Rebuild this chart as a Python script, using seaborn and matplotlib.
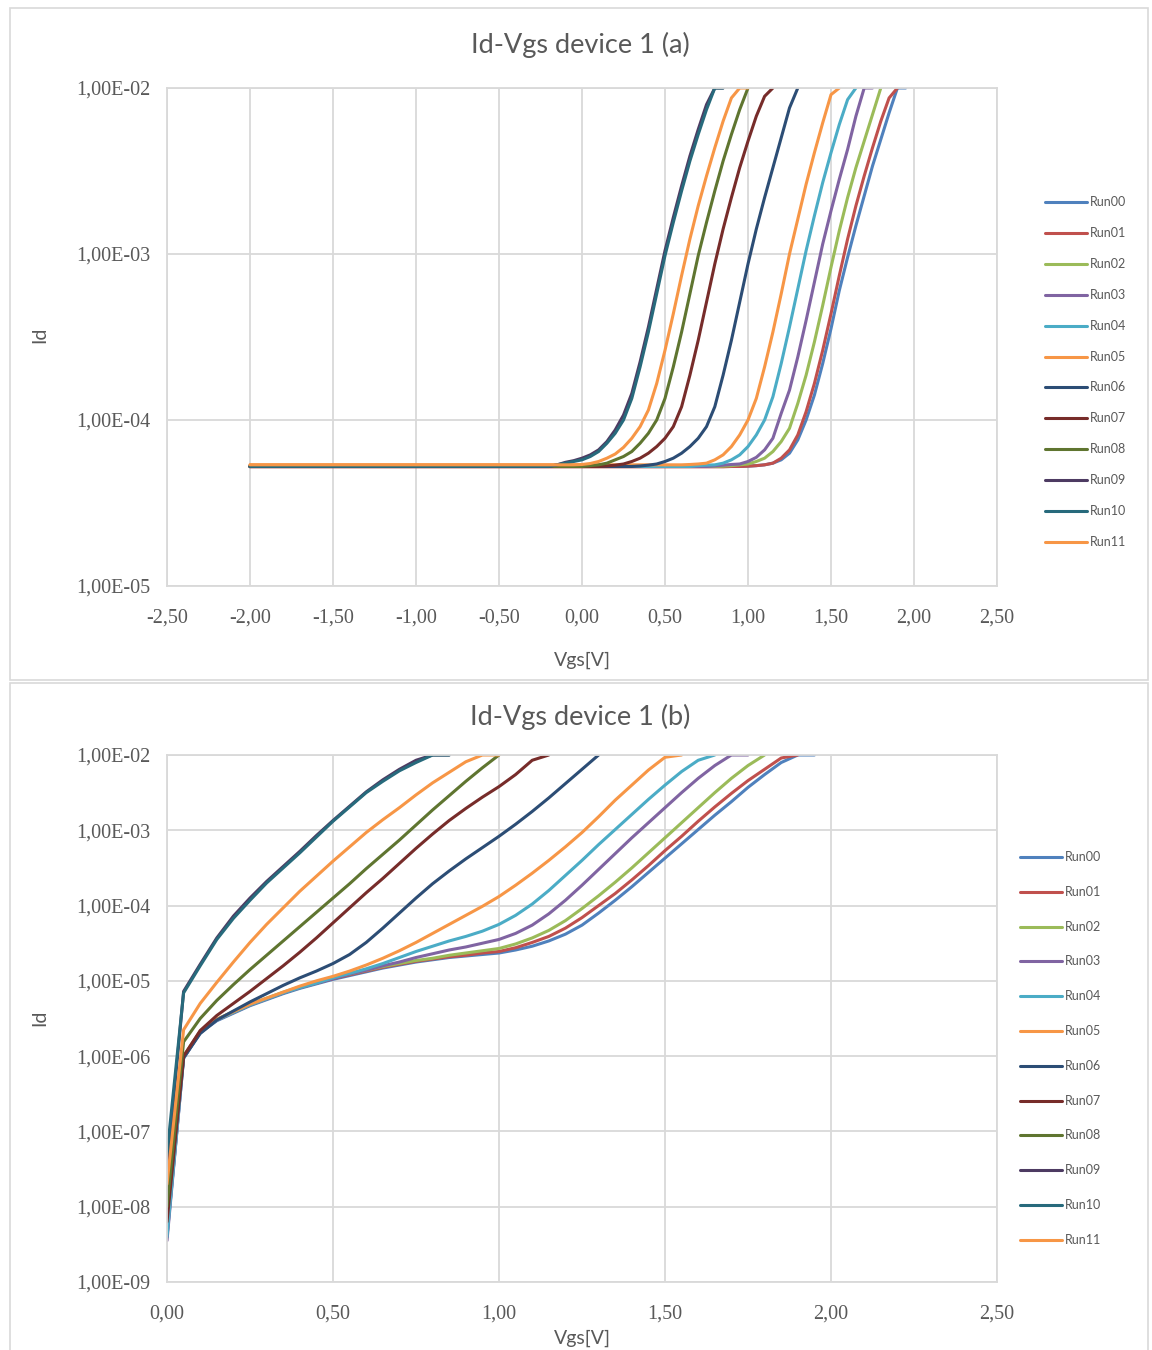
import numpy as np
import pandas as pd
import matplotlib
matplotlib.use("Agg")
import matplotlib.pyplot as plt
from matplotlib.patches import Rectangle
from matplotlib.lines import Line2D
from matplotlib.ticker import FixedLocator, FuncFormatter, NullLocator
import seaborn as sns

# ---------------------------------------------------------------------------
# Sweep voltages (V)
# ---------------------------------------------------------------------------
vgs_a = [-2.0, -1.5, -1.0, -0.5, -0.30, -0.25, -0.20, -0.15, -0.10, -0.05,
         0.00, 0.05, 0.10, 0.15, 0.20, 0.25, 0.30, 0.35, 0.40, 0.45,
         0.50, 0.55, 0.60, 0.65, 0.70, 0.75, 0.80, 0.85, 0.90, 0.95,
         1.00, 1.05, 1.10, 1.15, 1.20, 1.25, 1.30, 1.35, 1.40, 1.45,
         1.50, 1.55, 1.60, 1.65, 1.70, 1.75, 1.80, 1.85, 1.90, 1.95]

vgs_b = [0.00, 0.05, 0.10, 0.15, 0.20, 0.25, 0.30, 0.35, 0.40, 0.45,
         0.50, 0.55, 0.60, 0.65, 0.70, 0.75, 0.80, 0.85, 0.90, 0.95,
         1.00, 1.05, 1.10, 1.15, 1.20, 1.25, 1.30, 1.35, 1.40, 1.45,
         1.50, 1.55, 1.60, 1.65, 1.70, 1.75, 1.80, 1.85, 1.90, 1.95]

runs = ["Run00", "Run01", "Run02", "Run03", "Run04", "Run05",
        "Run06", "Run07", "Run08", "Run09", "Run10", "Run11"]

run_colors = ["#4F81BD", "#C0504D", "#9BBB59", "#8064A2", "#4BACC6", "#F79646",
              "#2C4D75", "#772C2A", "#5F7530", "#4D3B62", "#276A7C", "#F79646"]

# ---------------------------------------------------------------------------
# Device 1 (a): log10(Id [A]) per run, sampled on vgs_a (sweep stops at compliance)
# ---------------------------------------------------------------------------
a_run00 = [-4.28, -4.28, -4.28, -4.28, -4.28, -4.28, -4.28, -4.28, -4.28, -4.28,
           -4.28, -4.28, -4.28, -4.28, -4.28, -4.28, -4.28, -4.28, -4.28, -4.28,
           -4.28, -4.28, -4.28, -4.28, -4.28, -4.28, -4.28, -4.28, -4.28, -4.28,
           -4.278, -4.275, -4.27, -4.26, -4.24, -4.20, -4.12, -4.00, -3.85, -3.66,
           -3.45, -3.22, -3.02, -2.83, -2.65, -2.47, -2.31, -2.15, -2.00, -2.00]
a_run01 = [-4.282, -4.282, -4.282, -4.282, -4.282, -4.282, -4.282, -4.282, -4.282, -4.282,
           -4.282, -4.282, -4.282, -4.282, -4.282, -4.282, -4.282, -4.282, -4.282, -4.282,
           -4.282, -4.282, -4.282, -4.282, -4.282, -4.282, -4.282, -4.282, -4.28, -4.28,
           -4.278, -4.275, -4.27, -4.26, -4.23, -4.18, -4.09, -3.95, -3.78, -3.58,
           -3.36, -3.13, -2.91, -2.71, -2.53, -2.36, -2.20, -2.06, -2.00]
a_run02 = [-4.28, -4.28, -4.28, -4.28, -4.28, -4.28, -4.28, -4.28, -4.28, -4.28,
           -4.28, -4.28, -4.28, -4.28, -4.28, -4.28, -4.28, -4.28, -4.28, -4.28,
           -4.28, -4.28, -4.28, -4.28, -4.28, -4.28, -4.28, -4.278, -4.275, -4.27,
           -4.265, -4.25, -4.23, -4.19, -4.13, -4.05, -3.90, -3.73, -3.53, -3.31,
           -3.08, -2.86, -2.66, -2.48, -2.32, -2.16, -2.00]
a_run03 = [-4.28, -4.28, -4.28, -4.28, -4.28, -4.28, -4.28, -4.28, -4.28, -4.28,
           -4.28, -4.28, -4.28, -4.28, -4.28, -4.28, -4.28, -4.28, -4.28, -4.28,
           -4.28, -4.28, -4.28, -4.28, -4.28, -4.28, -4.277, -4.272, -4.268, -4.265,
           -4.25, -4.225, -4.18, -4.11, -3.96, -3.82, -3.62, -3.40, -3.17, -2.94,
           -2.74, -2.55, -2.37, -2.17, -2.00, -2.00]
a_run04 = [-4.28, -4.28, -4.28, -4.28, -4.28, -4.28, -4.28, -4.28, -4.28, -4.28,
           -4.28, -4.28, -4.28, -4.28, -4.28, -4.28, -4.28, -4.28, -4.28, -4.28,
           -4.28, -4.28, -4.28, -4.28, -4.275, -4.272, -4.27, -4.26, -4.24, -4.21,
           -4.16, -4.09, -4.00, -3.86, -3.66, -3.44, -3.21, -2.98, -2.77, -2.57,
           -2.39, -2.22, -2.07, -2.00]
a_run05 = [-4.27, -4.27, -4.27, -4.27, -4.27, -4.27, -4.27, -4.27, -4.27, -4.27,
           -4.27, -4.27, -4.27, -4.27, -4.27, -4.27, -4.27, -4.27, -4.27, -4.27,
           -4.27, -4.27, -4.27, -4.268, -4.265, -4.26, -4.24, -4.21, -4.16, -4.09,
           -4.00, -3.87, -3.68, -3.47, -3.24, -3.00, -2.79, -2.58, -2.39, -2.21,
           -2.04, -2.00]
a_run06 = [-4.28, -4.28, -4.28, -4.28, -4.28, -4.28, -4.28, -4.28, -4.28, -4.28,
           -4.28, -4.28, -4.28, -4.28, -4.28, -4.28, -4.28, -4.277, -4.272, -4.265,
           -4.25, -4.23, -4.20, -4.16, -4.11, -4.04, -3.92, -3.73, -3.52, -3.29,
           -3.06, -2.85, -2.66, -2.48, -2.30, -2.12, -2.00]
a_run07 = [-4.28, -4.28, -4.28, -4.28, -4.28, -4.28, -4.28, -4.28, -4.28, -4.28,
           -4.28, -4.28, -4.28, -4.277, -4.272, -4.265, -4.25, -4.23, -4.20, -4.16,
           -4.11, -4.04, -3.92, -3.73, -3.52, -3.29, -3.06, -2.85, -2.66, -2.48,
           -2.32, -2.17, -2.05, -2.00]
a_run08 = [-4.28, -4.28, -4.28, -4.28, -4.28, -4.28, -4.28, -4.28, -4.28, -4.28,
           -4.28, -4.275, -4.27, -4.26, -4.24, -4.22, -4.19, -4.14, -4.08, -4.00,
           -3.87, -3.68, -3.47, -3.24, -3.01, -2.81, -2.62, -2.44, -2.28, -2.13,
           -2.00]
a_run09 = [-4.28, -4.28, -4.28, -4.28, -4.28, -4.28, -4.28, -4.27, -4.255, -4.245,
           -4.23, -4.21, -4.18, -4.13, -4.06, -3.97, -3.84, -3.65, -3.44, -3.21,
           -2.98, -2.78, -2.59, -2.41, -2.25, -2.10, -2.00, -2.00]
a_run10 = [-4.28, -4.28, -4.28, -4.28, -4.28, -4.28, -4.28, -4.27, -4.26, -4.25,
           -4.24, -4.22, -4.19, -4.14, -4.08, -4.00, -3.87, -3.68, -3.47, -3.24,
           -3.01, -2.81, -2.62, -2.44, -2.28, -2.13, -2.00, -2.00]
a_run11 = [-4.27, -4.27, -4.27, -4.27, -4.27, -4.27, -4.27, -4.27, -4.27, -4.27,
           -4.268, -4.262, -4.25, -4.23, -4.205, -4.165, -4.11, -4.04, -3.94, -3.78,
           -3.58, -3.36, -3.13, -2.91, -2.71, -2.53, -2.36, -2.20, -2.06, -2.00,
           -2.00]

# ---------------------------------------------------------------------------
# Device 1 (b): log10(Id [A]) per run, sampled on vgs_b
# ---------------------------------------------------------------------------
b_run00 = [-8.40, -6.03, -5.69, -5.53, -5.43, -5.33, -5.25, -5.17, -5.10, -5.04,
           -4.98, -4.93, -4.88, -4.83, -4.79, -4.75, -4.72, -4.69, -4.67, -4.65,
           -4.63, -4.59, -4.54, -4.47, -4.38, -4.26, -4.10, -3.93, -3.75, -3.56,
           -3.37, -3.18, -2.99, -2.80, -2.62, -2.43, -2.26, -2.10, -2.00, -2.00]
b_run01 = [-8.25, -6.02, -5.68, -5.52, -5.42, -5.32, -5.24, -5.16, -5.09, -5.03,
           -4.97, -4.92, -4.87, -4.82, -4.78, -4.74, -4.71, -4.68, -4.66, -4.63,
           -4.61, -4.56, -4.49, -4.41, -4.30, -4.16, -4.00, -3.84, -3.66, -3.47,
           -3.27, -3.08, -2.88, -2.69, -2.51, -2.34, -2.19, -2.04, -2.00]
b_run02 = [-8.00, -6.00, -5.67, -5.51, -5.41, -5.31, -5.23, -5.15, -5.08, -5.02,
           -4.96, -4.91, -4.86, -4.81, -4.77, -4.73, -4.70, -4.66, -4.63, -4.60,
           -4.57, -4.51, -4.43, -4.33, -4.20, -4.04, -3.87, -3.69, -3.50, -3.30,
           -3.10, -2.90, -2.70, -2.50, -2.31, -2.14, -2.00]
b_run03 = [-8.45, -6.02, -5.68, -5.52, -5.42, -5.32, -5.24, -5.16, -5.09, -5.03,
           -4.97, -4.91, -4.86, -4.80, -4.75, -4.69, -4.64, -4.59, -4.55, -4.50,
           -4.45, -4.37, -4.26, -4.11, -3.93, -3.73, -3.52, -3.31, -3.10, -2.90,
           -2.70, -2.50, -2.31, -2.14, -2.00, -2.00]
b_run04 = [-8.40, -6.02, -5.68, -5.52, -5.42, -5.32, -5.24, -5.16, -5.09, -5.03,
           -4.96, -4.90, -4.84, -4.77, -4.69, -4.61, -4.54, -4.47, -4.41, -4.34,
           -4.25, -4.13, -3.98, -3.80, -3.60, -3.40, -3.19, -2.99, -2.79, -2.59,
           -2.40, -2.22, -2.07, -2.00]
b_run05 = [-7.82, -6.00, -5.67, -5.51, -5.41, -5.31, -5.23, -5.15, -5.07, -5.00,
           -4.94, -4.87, -4.79, -4.70, -4.60, -4.49, -4.37, -4.25, -4.13, -4.01,
           -3.88, -3.73, -3.57, -3.40, -3.22, -3.03, -2.82, -2.60, -2.40, -2.20,
           -2.03, -2.00]
b_run06 = [-8.10, -6.02, -5.70, -5.52, -5.40, -5.28, -5.17, -5.06, -4.96, -4.87,
           -4.77, -4.65, -4.49, -4.30, -4.10, -3.90, -3.71, -3.54, -3.38, -3.23,
           -3.08, -2.92, -2.75, -2.57, -2.38, -2.19, -2.00]
b_run07 = [-8.20, -6.00, -5.66, -5.46, -5.30, -5.14, -4.97, -4.80, -4.62, -4.43,
           -4.23, -4.03, -3.83, -3.64, -3.44, -3.24, -3.05, -2.87, -2.71, -2.56,
           -2.42, -2.26, -2.07, -2.00]
b_run08 = [-8.00, -5.81, -5.50, -5.26, -5.05, -4.85, -4.66, -4.47, -4.28, -4.09,
           -3.90, -3.71, -3.51, -3.32, -3.13, -2.93, -2.73, -2.54, -2.35, -2.17,
           -2.00]
b_run09 = [-7.52, -5.14, -4.78, -4.43, -4.14, -3.90, -3.68, -3.48, -3.28, -3.07,
           -2.87, -2.68, -2.49, -2.33, -2.19, -2.07, -2.00, -2.00]
b_run10 = [-7.30, -5.16, -4.80, -4.45, -4.17, -3.93, -3.70, -3.50, -3.30, -3.09,
           -2.88, -2.69, -2.50, -2.35, -2.21, -2.10, -2.00, -2.00]
b_run11 = [-7.70, -5.65, -5.30, -5.02, -4.75, -4.49, -4.25, -4.03, -3.81, -3.61,
           -3.41, -3.22, -3.03, -2.86, -2.70, -2.53, -2.37, -2.23, -2.09, -2.00,
           -2.00]

series_a = [a_run00, a_run01, a_run02, a_run03, a_run04, a_run05,
            a_run06, a_run07, a_run08, a_run09, a_run10, a_run11]
series_b = [b_run00, b_run01, b_run02, b_run03, b_run04, b_run05,
            b_run06, b_run07, b_run08, b_run09, b_run10, b_run11]

x_ticks_a = [-2.5, -2.0, -1.5, -1.0, -0.5, 0.0, 0.5, 1.0, 1.5, 2.0, 2.5]
x_ticks_b = [0.0, 0.5, 1.0, 1.5, 2.0, 2.5]
y_ticks_a = [1e-5, 1e-4, 1e-3, 1e-2]
y_ticks_b = [1e-9, 1e-8, 1e-7, 1e-6, 1e-5, 1e-4, 1e-3, 1e-2]


def long_table(grid, series):
    rows = []
    for name, logs in zip(runs, series):
        for v, lg in zip(grid, logs):
            rows.append((name, v, 10.0 ** lg))
    return pd.DataFrame(rows, columns=["Run", "Vgs", "Id"])


df_a = long_table(vgs_a, series_a)
df_b = long_table(vgs_b, series_b)

# ---------------------------------------------------------------------------
# Styling
# ---------------------------------------------------------------------------
sns.set_style("white")
plt.rcParams["font.family"] = ["Lato", "DejaVu Sans"]
TEXT = "#595959"
GRID = "#D9D9D9"
SERIF = ["Liberation Serif", "DejaVu Serif"]

W, H = 1152, 1350
fig = plt.figure(figsize=(W / 100, H / 100), dpi=100)
fig.patch.set_facecolor("white")


def fx(px):
    return px / W


def fy(py):
    return 1 - py / H


# chart frames
fig.add_artist(Rectangle((fx(10), fy(680)), fx(1148) - fx(10), fy(8) - fy(680),
                         transform=fig.transFigure, fill=False,
                         edgecolor=GRID, linewidth=1.2))
fig.add_artist(Rectangle((fx(10), fy(1360)), fx(1148) - fx(10), fy(683) - fy(1360),
                         transform=fig.transFigure, fill=False,
                         edgecolor=GRID, linewidth=1.2))

palette = dict(zip(runs, run_colors))


def decorate(ax, xticks, yticks, xlim, ylim):
    ax.set_yscale("log")
    ax.set_xlim(*xlim)
    ax.set_ylim(*ylim)
    ax.xaxis.set_major_locator(FixedLocator(xticks))
    ax.yaxis.set_major_locator(FixedLocator(yticks))
    ax.yaxis.set_minor_locator(NullLocator())
    ax.xaxis.set_minor_locator(NullLocator())
    ax.xaxis.set_major_formatter(FuncFormatter(
        lambda v, p: ("%.2f" % (0.0 if abs(v) < 1e-9 else v)).replace(".", ",")))
    ax.yaxis.set_major_formatter(FuncFormatter(
        lambda v, p: ("%.2E" % v).replace(".", ",")))
    ax.grid(True, which="major", color=GRID, linewidth=1.3)
    ax.set_axisbelow(True)
    for s in ax.spines.values():
        s.set_color(GRID)
        s.set_linewidth(1.3)
    ax.tick_params(length=0, labelcolor=TEXT, labelsize=14.5)
    ax.tick_params(axis="y", pad=12)
    ax.tick_params(axis="x", pad=16)
    for lab in ax.get_xticklabels() + ax.get_yticklabels():
        lab.set_fontfamily(SERIF)
    ax.set_xlabel("")
    ax.set_ylabel("")


# ---- panel (a) ----
ax_a = fig.add_axes([fx(167), fy(586), fx(997) - fx(167), fy(88) - fy(586)])
sns.lineplot(data=df_a, x="Vgs", y="Id", hue="Run", hue_order=runs,
             palette=palette, estimator=None, sort=False, linewidth=2.2,
             legend=False, ax=ax_a)
decorate(ax_a, x_ticks_a, y_ticks_a, (-2.5, 2.5), (1e-5, 1e-2))

# ---- panel (b) ----
ax_b = fig.add_axes([fx(167), fy(1282), fx(997) - fx(167), fy(755) - fy(1282)])
sns.lineplot(data=df_b, x="Vgs", y="Id", hue="Run", hue_order=runs,
             palette=palette, estimator=None, sort=False, linewidth=2.2,
             legend=False, ax=ax_b)
decorate(ax_b, x_ticks_b, y_ticks_b, (0.0, 2.5), (1e-9, 1e-2))

# titles and axis labels
fig.text(fx(580), fy(45), "Id-Vgs device 1 (a)", ha="center", va="center",
         fontsize=19.5, color=TEXT)
fig.text(fx(580), fy(717), "Id-Vgs device 1 (b)", ha="center", va="center",
         fontsize=19.5, color=TEXT)
fig.text(fx(582), fy(660), "Vgs[V]", ha="center", va="center", fontsize=14, color=TEXT)
fig.text(fx(582), fy(1338), "Vgs[V]", ha="center", va="center", fontsize=14, color=TEXT)
fig.text(fx(40), fy(335), "Id", ha="center", va="center", rotation=90,
         fontsize=14, color=TEXT)
fig.text(fx(40), fy(1018), "Id", ha="center", va="center", rotation=90,
         fontsize=14, color=TEXT)

# legends
for i, (name, col) in enumerate(zip(runs, run_colors)):
    y = 202 + i * 30.9
    fig.add_artist(Line2D([fx(1045), fx(1087)], [fy(y), fy(y)],
                          transform=fig.transFigure, color=col, linewidth=2.2))
    fig.text(fx(1090), fy(y), name, ha="left", va="center", fontsize=9, color=TEXT)
    y = 857 + i * 34.8
    fig.add_artist(Line2D([fx(1020), fx(1062)], [fy(y), fy(y)],
                          transform=fig.transFigure, color=col, linewidth=2.2))
    fig.text(fx(1065), fy(y), name, ha="left", va="center", fontsize=9, color=TEXT)

fig.savefig("out.png", dpi=100, facecolor="white")
